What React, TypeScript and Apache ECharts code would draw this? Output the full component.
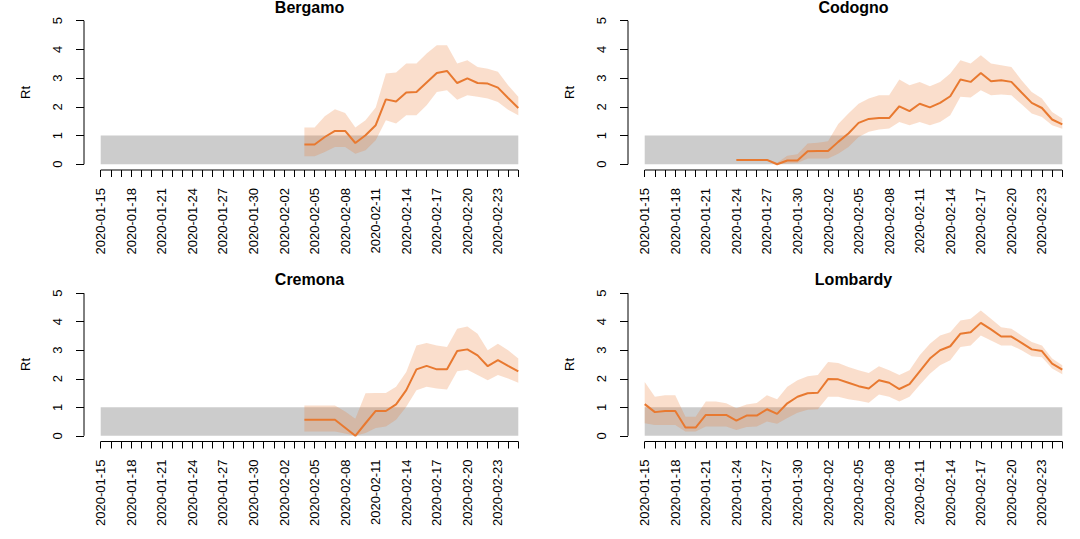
import React, { useEffect, useRef } from "react";
import * as echarts from "echarts";

const dates = [
  "2020-01-15", "2020-01-16", "2020-01-17", "2020-01-18", "2020-01-19", "2020-01-20", "2020-01-21",
  "2020-01-22", "2020-01-23", "2020-01-24", "2020-01-25", "2020-01-26", "2020-01-27", "2020-01-28",
  "2020-01-29", "2020-01-30", "2020-01-31", "2020-02-01", "2020-02-02", "2020-02-03", "2020-02-04",
  "2020-02-05", "2020-02-06", "2020-02-07", "2020-02-08", "2020-02-09", "2020-02-10", "2020-02-11",
  "2020-02-12", "2020-02-13", "2020-02-14", "2020-02-15", "2020-02-16", "2020-02-17", "2020-02-18",
  "2020-02-19", "2020-02-20", "2020-02-21", "2020-02-22", "2020-02-23", "2020-02-24", "2020-02-25",
];
const labelEvery = 3;
const yTicks = [0, 1, 2, 3, 4, 5];
const threshold = 1;

const regionNames = ["Bergamo", "Codogno", "Cremona", "Lombardy"];

// Each series starts at the given index into `dates`
const bergamoStart = 20;
const bergamoMean = [0.69, 0.69, 0.95, 1.16, 1.16, 0.74, 1.01, 1.36, 2.26, 2.19, 2.5, 2.52, 2.85, 3.18, 3.25, 2.83, 2.99, 2.83, 2.81, 2.67, 2.31, 1.96];
const bergamoHigh = [1.28, 1.28, 1.67, 1.92, 1.79, 1.28, 1.53, 1.98, 3.16, 3.2, 3.51, 3.51, 3.86, 4.15, 4.15, 3.51, 3.62, 3.39, 3.33, 3.22, 2.75, 2.35];
const bergamoLow = [0.28, 0.28, 0.43, 0.6, 0.6, 0.37, 0.49, 0.84, 1.53, 1.42, 1.71, 1.71, 2.06, 2.52, 2.58, 2.25, 2.4, 2.35, 2.29, 2.17, 1.9, 1.71];

const codognoStart = 9;
const codognoMean = [0.15, 0.15, 0.15, 0.15, 0.0, 0.13, 0.13, 0.45, 0.46, 0.46, 0.78, 1.07, 1.44, 1.58, 1.61, 1.61, 2.02, 1.85, 2.11, 1.98, 2.14, 2.37, 2.95, 2.87, 3.18, 2.89, 2.93, 2.87, 2.5, 2.14, 1.96, 1.56, 1.39];
const codognoHigh = [0.18, 0.18, 0.18, 0.18, 0.05, 0.3, 0.35, 0.72, 0.75, 0.8, 1.4, 1.77, 2.11, 2.29, 2.4, 2.4, 2.95, 2.75, 2.87, 2.72, 2.87, 3.16, 3.62, 3.51, 3.8, 3.51, 3.45, 3.39, 2.93, 2.52, 2.29, 1.82, 1.59];
const codognoLow = [0.12, 0.12, 0.12, 0.12, 0.0, 0.03, 0.04, 0.2, 0.2, 0.2, 0.37, 0.6, 0.95, 1.13, 1.21, 1.25, 1.47, 1.36, 1.47, 1.36, 1.47, 1.71, 2.35, 2.33, 2.58, 2.4, 2.43, 2.4, 2.09, 1.77, 1.65, 1.36, 1.24];

const cremonaStart = 20;
const cremonaMean = [0.56, 0.56, 0.56, 0.56, 0.28, 0.0, 0.44, 0.87, 0.87, 1.1, 1.6, 2.33, 2.45, 2.33, 2.33, 2.97, 3.03, 2.82, 2.44, 2.65, 2.45, 2.26];
const cremonaHigh = [1.06, 1.06, 1.06, 1.06, 0.85, 0.6, 1.49, 1.5, 1.5, 1.72, 2.24, 3.17, 3.25, 3.17, 3.11, 3.75, 3.83, 3.58, 3.0, 3.23, 3.0, 2.71];
const cremonaLow = [0.15, 0.15, 0.15, 0.15, 0.08, 0.0, 0.1, 0.27, 0.33, 0.56, 1.02, 1.6, 1.72, 1.66, 1.62, 2.26, 2.32, 2.13, 1.95, 2.13, 2.01, 1.86];

const lombardyStart = 0;
const lombardyMean = [1.11, 0.83, 0.87, 0.87, 0.29, 0.29, 0.73, 0.73, 0.73, 0.53, 0.71, 0.71, 0.93, 0.77, 1.14, 1.37, 1.49, 1.51, 1.99, 1.98, 1.86, 1.74, 1.66, 1.95, 1.86, 1.64, 1.81, 2.26, 2.71, 3.0, 3.14, 3.58, 3.63, 3.96, 3.73, 3.48, 3.48, 3.26, 3.03, 2.97, 2.53, 2.32];
const lombardyHigh = [1.89, 1.37, 1.42, 1.42, 0.67, 0.67, 1.2, 1.2, 1.14, 0.97, 1.1, 1.15, 1.42, 1.28, 1.72, 1.95, 2.09, 2.13, 2.59, 2.55, 2.41, 2.3, 2.2, 2.44, 2.3, 2.13, 2.3, 2.82, 3.23, 3.52, 3.63, 4.04, 4.1, 4.39, 4.1, 3.81, 3.75, 3.52, 3.29, 3.17, 2.71, 2.47];
const lombardyLow = [0.44, 0.38, 0.38, 0.38, 0.15, 0.15, 0.33, 0.33, 0.33, 0.2, 0.31, 0.33, 0.5, 0.42, 0.62, 0.81, 0.91, 0.93, 1.37, 1.37, 1.28, 1.23, 1.16, 1.45, 1.37, 1.2, 1.37, 1.78, 2.18, 2.47, 2.65, 3.11, 3.17, 3.52, 3.34, 3.17, 3.17, 3.0, 2.79, 2.75, 2.36, 2.16];

const LINE = "rgb(232,121,48)";
const BAND = "rgba(236,124,52,0.25)";
const GRAY = "#CCCCCC";
const FONT = "'Liberation Sans', Arial, Helvetica, sans-serif";

export default function App() {
  const ref = useRef<HTMLDivElement>(null);

  useEffect(() => {
    if (!ref.current) return;
    const chart = echarts.init(ref.current, undefined, { renderer: "svg" });

    const panels = [
      { name: regionNames[0], start: bergamoStart, mean: bergamoMean, hi: bergamoHigh, lo: bergamoLow },
      { name: regionNames[1], start: codognoStart, mean: codognoMean, hi: codognoHigh, lo: codognoLow },
      { name: regionNames[2], start: cremonaStart, mean: cremonaMean, hi: cremonaHigh, lo: cremonaLow },
      { name: regionNames[3], start: lombardyStart, mean: lombardyMean, hi: lombardyHigh, lo: lombardyLow },
    ];

    const n = dates.length;
    const lastIdx = n - 1;
    const padX = lastIdx * 0.04;
    const xMin = -padX;
    const xMax = lastIdx + padX;
    const yLo = yTicks[0];
    const yHi = yTicks[yTicks.length - 1];
    const padY = (yHi - yLo) * 0.04;
    const yMin = yLo - padY;
    const yMax = yHi + padY;

    const tickVals = dates.map((_, i) => i);
    const labelVals = tickVals.filter((i) => i % labelEvery === 0);

    const layout = [
      { left: 84, top: 15, width: 451, height: 155, cx: 309.5, ty: 7 },
      { left: 628, top: 15, width: 451, height: 155, cx: 853.5, ty: 7 },
      { left: 84, top: 287.5, width: 451, height: 154, cx: 309.5, ty: 279 },
      { left: 628, top: 287.5, width: 451, height: 154, cx: 853.5, ty: 279 },
    ];

    const grid: any[] = [];
    const xAxis: any[] = [];
    const yAxis: any[] = [];
    const series: any[] = [];
    const graphic: any[] = [];

    panels.forEach((p, i) => {
      const L = layout[i];
      grid.push({ left: L.left, top: L.top, width: L.width, height: L.height, containLabel: false });
      xAxis.push({
        type: "value",
        gridIndex: i,
        min: xMin,
        max: xMax,
        position: "bottom",
        splitLine: { show: false },
        axisLine: { show: false, onZero: false },
        axisTick: { show: true, customValues: tickVals, length: 7, lineStyle: { color: "#000", width: 1 } },
        axisLabel: {
          show: true,
          customValues: labelVals,
          rotate: 90,
          margin: 18,
          fontSize: 13,
          fontFamily: FONT,
          color: "#000",
          formatter: (v: number) => dates[Math.round(v)] ?? "",
        },
      });
      yAxis.push({
        type: "value",
        gridIndex: i,
        min: yMin,
        max: yMax,
        position: "left",
        splitLine: { show: false },
        axisLine: { show: false, onZero: false },
        axisTick: { show: true, customValues: yTicks, length: 8, lineStyle: { color: "#000", width: 1 } },
        axisLabel: {
          show: true,
          customValues: yTicks,
          rotate: 90,
          margin: 20,
          fontSize: 13,
          fontFamily: FONT,
          color: "#000",
        },
        name: "Rt",
        nameLocation: "middle",
        nameGap: 52,
        nameTextStyle: { fontSize: 13, fontFamily: FONT, color: "#000" },
      });

      // gray reference band 0..1 across the date range
      series.push({
        type: "line",
        xAxisIndex: i,
        yAxisIndex: i,
        data: [[0, threshold], [lastIdx, threshold]],
        symbol: "none",
        lineStyle: { width: 0, opacity: 0 },
        areaStyle: { color: GRAY, opacity: 1, origin: "auto" },
        z: 1,
        silent: true,
      });

      const bandData = p.hi.map((v, k) => [p.start + k, p.lo[k], v]);
      const meanData = p.mean.map((v, k) => [p.start + k, v]);

      series.push({
        type: "custom",
        xAxisIndex: i,
        yAxisIndex: i,
        data: bandData,
        z: 2,
        silent: true,
        clip: true,
        renderItem: (params: any, api: any) => {
          if (params.dataIndex !== 0) return null;
          const upper = bandData.map((r) => api.coord([r[0], r[2]]));
          const lower = bandData.map((r) => api.coord([r[0], r[1]])).reverse();
          return {
            type: "polygon",
            shape: { points: upper.concat(lower) },
            style: { fill: BAND, stroke: "none" },
          };
        },
      });

      series.push({
        type: "line",
        xAxisIndex: i,
        yAxisIndex: i,
        data: meanData,
        symbol: "none",
        lineStyle: { color: LINE, width: 2 },
        z: 5,
        silent: true,
      });

      // axis lines spanning only the tick range (R style)
      series.push({
        type: "line",
        xAxisIndex: i,
        yAxisIndex: i,
        data: [[0, yMin], [lastIdx, yMin]],
        symbol: "none",
        clip: false,
        lineStyle: { color: "#000", width: 1 },
        z: 10,
        silent: true,
      });
      series.push({
        type: "line",
        xAxisIndex: i,
        yAxisIndex: i,
        data: [[xMin, yLo], [xMin, yHi]],
        symbol: "none",
        clip: false,
        lineStyle: { color: "#000", width: 1 },
        z: 10,
        silent: true,
      });

      graphic.push({
        type: "text",
        x: L.cx,
        y: L.ty,
        style: {
          text: p.name,
          textAlign: "center",
          textVerticalAlign: "middle",
          font: "bold 16px " + FONT,
          fill: "#000",
        },
      });
    });

    chart.setOption({
      animation: false,
      backgroundColor: "#fff",
      grid,
      xAxis,
      yAxis,
      series,
      graphic,
    });

    return () => chart.dispose();
  }, []);

  return (
    <div
      ref={ref}
      style={{ position: "absolute", left: 0, top: 0, width: 1080, height: 539 }}
    />
  );
}
